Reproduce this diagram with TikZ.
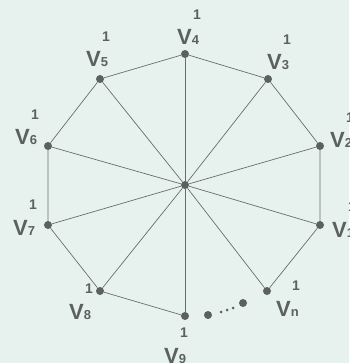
\documentclass[tikz,border=0pt]{standalone}
\usepackage{fontspec}
\setmainfont{Liberation Sans}

\definecolor{fondo}{RGB}{231,242,238}
\definecolor{gris}{RGB}{92,97,94}
\definecolor{linea}{RGB}{104,109,106}

\tikzset{
  vert/.style={circle, fill=gris, inner sep=0pt, minimum size=8pt},
  punto/.style={circle, fill=gris, inner sep=0pt, minimum size=3pt},
  nombre/.style={anchor=base west, inner sep=0pt, text=gris, font=\bfseries\fontsize{22}{22}\selectfont},
  uno/.style={inner sep=0pt, text=gris, font=\bfseries\fontsize{14}{14}\selectfont},
  arista/.style={draw=linea, line width=0.7pt}
}
\newcommand{\vsub}[1]{V{\fontsize{13}{13}\selectfont #1}}

\begin{document}
\begin{tikzpicture}[x=1pt, y=-1pt]

        % fondo
        \useasboundingbox (0,0) rectangle (349,363);
        \fill[fondo] (0,0) rectangle (349,363);

        % vertices
        \node[vert] (c) at (185,185) {};
        \node[vert] (v1) at (320,225) {};
        \node[vert] (v2) at (320,146) {};
        \node[vert] (v3) at (268,79) {};
        \node[vert] (v4) at (185,54) {};
        \node[vert] (v5) at (100,79) {};
        \node[vert] (v6) at (48,146) {};
        \node[vert] (v7) at (48,225) {};
        \node[vert] (v8) at (100,291) {};
        \node[vert] (v9) at (185,316) {};
        \node[vert] (vn) at (267,291) {};

        % puntos suspensivos
        \node[vert] (p1) at (208,315) {};
        \node[punto] (p2) at (221,312) {};
        \node[punto] (p3) at (227,310) {};
        \node[punto] (p4) at (233,308) {};
        \node[vert] (p5) at (243,303) {};

        % aristas
        \foreach \i in {1,...,9,n}
            \draw[arista] (c) -- (v\i);
        \draw[arista] (vn) -- (v1) -- (v2) -- (v3) -- (v4) -- (v5)
            -- (v6) -- (v7) -- (v8) -- (v9);

        % etiquetas
        \foreach \i/\x/\y in {1/332/237, 2/330/148, 3/267/70, 4/177/45,
                5/86/67, 6/15/145, 7/13/235, 8/69/319, 9/164/363, n/276/316}{
            \node[nombre] (l\i) at (\x,\y) {\vsub{\i}};
            \node[uno] (s\i) at ({\x+20},{\y-30}) {1};
        }

\end{tikzpicture}
\end{document}
